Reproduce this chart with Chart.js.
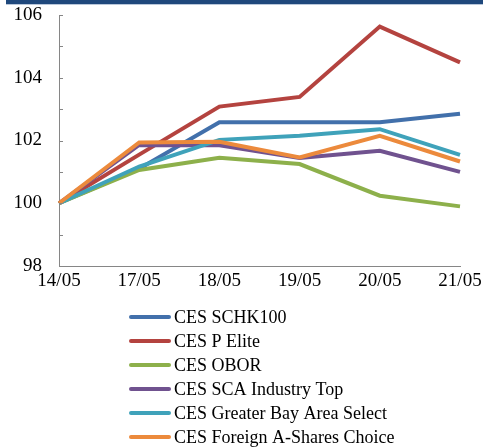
<!DOCTYPE html>
<html>
<head>
<meta charset="utf-8">
<script src="https://cdn.jsdelivr.net/npm/chart.js@4.4.1/dist/chart.umd.min.js"></script>
<style>
  html, body { margin: 0; padding: 0; background: #ffffff; }
  #wrap { position: relative; width: 486px; height: 448px; }
  canvas { display: block; }
</style>
</head>
<body>
<div id="wrap"><canvas id="c" width="486" height="448"></canvas></div>
<script>
const categories = ['14/05', '17/05', '18/05', '19/05', '20/05', '21/05'];
const seriesNames = [
  'CES SCHK100',
  'CES P Elite',
  'CES OBOR',
  'CES SCA Industry Top',
  'CES Greater Bay Area Select',
  'CES Foreign A-Shares Choice'
];
const schk100   = [100, 101.10, 102.58, 102.58, 102.58, 102.85];
const pElite    = [100, 101.55, 103.08, 103.39, 105.63, 104.49];
const obor      = [100, 101.06, 101.45, 101.25, 100.24, 99.90];
const scaTop    = [100, 101.86, 101.85, 101.44, 101.67, 101.00];
const gbaSelect = [100, 101.17, 102.02, 102.15, 102.36, 101.54];
const foreignA  = [100, 101.94, 101.96, 101.46, 102.15, 101.33];
const yTickLabels = [98, 100, 102, 104, 106];

const seriesValues = [schk100, pElite, obor, scaTop, gbaSelect, foreignA];
const colors = ['#4270AB', '#B4433F', '#8DB04B', '#70528F', '#3FA2BA', '#EC8A3C'];

const FONT = '"Liberation Serif", "Times New Roman", serif';

const topBar = {
  id: 'topBar',
  beforeDraw(chart) {
    const ctx = chart.ctx;
    ctx.save();
    ctx.fillStyle = '#ffffff';
    ctx.fillRect(0, 0, chart.width, chart.height);
    ctx.fillStyle = '#1F487C';
    ctx.fillRect(6, 0, 477, 4);
    ctx.fillStyle = '#B9C7DA';
    ctx.fillRect(6, 4, 477, 1);
    ctx.restore();
  }
};

const innerTicks = {
  id: 'innerTicks',
  afterDraw(chart) {
    const y = chart.scales.y;
    const ctx = chart.ctx;
    ctx.save();
    ctx.strokeStyle = '#868686';
    ctx.lineWidth = 1;
    y.ticks.forEach(t => {
      const py = Math.round(y.getPixelForValue(t.value)) + 0.5;
      ctx.beginPath();
      ctx.moveTo(y.right, py);
      ctx.lineTo(y.right + 4, py);
      ctx.stroke();
    });
    ctx.restore();
  }
};

const sideLegend = {
  id: 'sideLegend',
  afterDraw(chart) {
    const ctx = chart.ctx;
    ctx.save();
    ctx.font = '18px ' + FONT;
    ctx.textBaseline = 'middle';
    ctx.textAlign = 'left';
    chart.data.datasets.forEach((ds, i) => {
      const cy = 317 + i * 24;
      ctx.strokeStyle = ds.borderColor;
      ctx.lineWidth = 4;
      ctx.lineCap = 'round';
      ctx.beginPath();
      ctx.moveTo(131, cy);
      ctx.lineTo(169, cy);
      ctx.stroke();
      ctx.fillStyle = '#000000';
      ctx.fillText(ds.label, 174, cy + 1);
    });
    ctx.restore();
  }
};

const datasets = seriesNames.map((name, i) => ({
  label: name,
  data: seriesValues[i],
  borderColor: colors[i],
  backgroundColor: colors[i],
  borderWidth: 4,
  pointRadius: 0,
  pointHoverRadius: 0,
  tension: 0,
  fill: false,
  borderJoinStyle: 'miter',
  order: seriesNames.length - i
}));

new Chart(document.getElementById('c'), {
  type: 'line',
  data: { labels: categories, datasets },
  options: {
    responsive: false,
    animation: false,
    devicePixelRatio: 1,
    layout: { padding: { top: 15, right: 26, bottom: 152, left: 0 } },
    plugins: {
      legend: { display: false },
      tooltip: { enabled: false }
    },
    scales: {
      x: {
        offset: false,
        afterFit(scale) { scale.height = 30; scale.paddingLeft = 0; scale.paddingRight = 0; },
        grid: { display: false, drawTicks: false },
        border: { display: true, color: '#868686', width: 1 },
        ticks: {
          color: '#000000',
          font: { family: FONT, size: 19 },
          padding: 4,
          maxRotation: 0,
          autoSkip: false
        }
      },
      y: {
        min: 98,
        max: 106,
        afterFit(scale) { scale.width = 59; scale.paddingTop = 0; scale.paddingBottom = 0; },
        grid: { display: false, drawTicks: false },
        border: { display: true, color: '#868686', width: 1 },
        ticks: {
          stepSize: 1,
          color: '#000000',
          font: { family: FONT, size: 19 },
          padding: 17,
          callback: (v) => yTickLabels.includes(v) ? String(v) : ''
        }
      }
    }
  },
  plugins: [topBar, innerTicks, sideLegend]
});
</script>
</body>
</html>
